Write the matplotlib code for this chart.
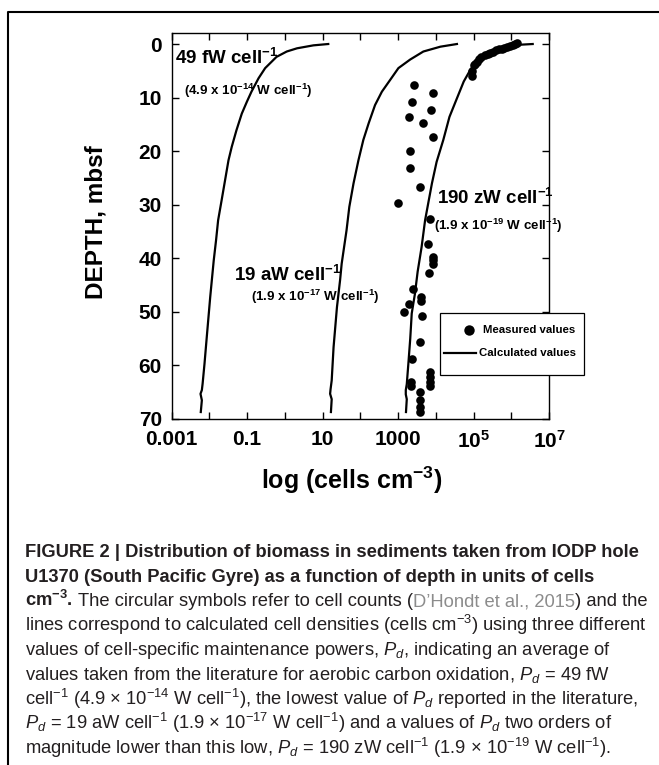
"""Depth profile of cell densities at IODP hole U1370 (South Pacific Gyre)."""

import matplotlib
matplotlib.use("Agg")
import matplotlib.pyplot as plt
from matplotlib import font_manager
from matplotlib.lines import Line2D
from matplotlib.patches import Rectangle
from matplotlib.ticker import NullLocator

installed = {f.name for f in font_manager.fontManager.ttflist}
CAPTION_FONT = "Liberation Sans Narrow" if "Liberation Sans Narrow" in installed else "Liberation Sans"

plt.rcParams["font.family"] = ["Liberation Sans", "DejaVu Sans"]
plt.rcParams["mathtext.fontset"] = "custom"
plt.rcParams["mathtext.rm"] = CAPTION_FONT
plt.rcParams["mathtext.it"] = CAPTION_FONT + ":italic"
plt.rcParams["mathtext.bf"] = "Liberation Sans:bold"

# calculated cell densities (cells cm-3) for three maintenance powers
depth_49fw = [0.0, 0.25, 0.8, 1.4, 2.4, 4.5, 6.4, 8.9, 10.8, 13.0, 16.1, 19.2, 21.7, 25.4,
              29.2, 32.9, 36.6, 40.4, 47.2, 54.7, 59.7, 63.4, 64.6, 65.3, 66.5, 68.7]
cells_49fw = [14.1, 5.7, 2.1, 1.12, 0.60, 0.30, 0.20, 0.13, 0.098, 0.072, 0.052, 0.039, 0.032,
              0.026, 0.021, 0.017, 0.015, 0.013, 0.0105, 0.0085, 0.0074, 0.0066, 0.0063,
              0.0058, 0.0063, 0.0059]

depth_19aw = [0.0, 0.5, 1.4, 2.9, 4.5, 6.7, 8.9, 11.4, 14.8, 17.9, 21.7, 26.0, 30.4, 34.8,
              41.0, 44.1, 49.1, 56.6, 62.8, 64.5, 65.3, 66.3, 68.7]
cells_19aw = [36300, 13200, 4680, 2090, 1020, 617, 372, 245, 166, 120, 89, 66, 51, 43,
              32, 29, 24, 19.5, 17.4, 16.2, 15.8, 17.4, 16.6]

depth_190zw = [0.0, 0.2, 1.1, 2.4, 4.9, 7.0, 10.2, 13.6, 17.9, 22.0, 26.0, 29.2, 32.9, 37.9,
               42.5, 46.6, 50.3, 55.0, 59.1, 63.5, 64.6, 65.4, 66.3, 68.7]
cells_190zw = [3.7e6, 1.15e6, 3.4e5, 1.5e5, 8.1e4, 5.5e4, 3.6e4, 2.3e4, 1.58e4, 1.05e4,
               7.9e3, 6.5e3, 5.2e3, 4.2e3, 3.3e3, 2.8e3, 2.3e3, 2.1e3, 1.9e3, 1.7e3,
               1.6e3, 1.6e3, 1.7e3, 1.62e3]

# measured cell counts (D'Hondt et al., 2015)
meas_depth = [-0.1, 0.0, 0.2, 0.35, 0.5, 0.7, 0.9, 1.0, 1.2, 1.4, 1.6, 1.8, 2.0, 2.5, 2.8,
              3.3, 3.7, 4.0, 5.0, 6.0,
              7.7, 9.1, 10.8, 12.3, 13.7, 14.7, 17.3, 20.0, 23.1, 26.7, 29.7, 32.6, 37.4,
              39.8, 40.4, 41.1, 42.7, 45.7, 47.2, 47.9, 48.5, 50.0, 50.8, 55.6, 58.8,
              61.3, 62.2, 63.1, 63.9, 63.1, 63.9, 65.0, 66.5, 67.8, 68.6]
meas_cells = [1.41e6, 1.26e6, 1.12e6, 9.5e5, 7.9e5, 6.6e5, 5.6e5, 4.8e5, 4.0e5, 3.3e5,
              2.8e5, 2.4e5, 2.0e5, 1.58e5, 1.41e5, 1.2e5, 1.12e5, 1.0e5, 8.9e4, 8.9e4,
              2570, 8300, 2340, 7590, 1900, 4680, 8300, 2090, 2090, 3890, 1020, 7080, 6170,
              8300, 8300, 8300, 6460, 2450, 3980, 3980, 2000, 1450, 4270, 3720, 2400,
              7080, 7080, 7080, 7080, 2240, 2240, 3890, 3890, 3890, 3890]

x_ticks = [1e-3, 1e-2, 1e-1, 1e0, 1e1, 1e2, 1e3, 1e4, 1e5, 1e6, 1e7]
x_tick_labels = ["0.001", "", "0.1", "", "10", "", "1000", "",
                 r"10$^{\mathbf{5}}$", "", r"10$^{\mathbf{7}}$"]
y_ticks = [0, 10, 20, 30, 40, 50, 60, 70]

# (label, x in cells cm-3, depth) for the curve annotations
curve_labels = [
    (r"49 fW cell$^{\mathbf{-1}}$", 1.2e-3, 2.6),
    (r"(4.9 x 10$^{\mathbf{-14}}$ W cell$^{\mathbf{-1}}$)", 2.1e-3, 8.8),
    (r"19 aW cell$^{\mathbf{-1}}$", 4.5e-2, 43.2),
    (r"(1.9 x 10$^{\mathbf{-17}}$ W cell$^{\mathbf{-1}}$)", 1.25e-1, 47.2),
    (r"190 zW cell$^{\mathbf{-1}}$", 1.1e4, 28.8),
    (r"(1.9 x 10$^{\mathbf{-19}}$ W cell$^{\mathbf{-1}}$)", 8.7e3, 34.0),
]

caption_lines = [
    [("FIGURE 2 | Distribution of biomass in sediments taken from IODP hole", "bold", None)],
    [("U1370 (South Pacific Gyre) as a function of depth in units of cells", "bold", None)],
    [(r"cm$^{\mathbf{-3}}$.", "bold", None),
     (" The circular symbols refer to cell counts (", "normal", None),
     ("D’Hondt et al., 2015", "normal", "#8c8c8c"),
     (") and the", "normal", None)],
    [("lines correspond to calculated cell densities (cells cm$^{-3}$) using three different", "normal", None)],
    [("values of cell-specific maintenance powers, $P_d$, indicating an average of", "normal", None)],
    [("values taken from the literature for aerobic carbon oxidation, $P_d$ = 49 fW", "normal", None)],
    [("cell$^{-1}$ (4.9 × 10$^{-14}$ W cell$^{-1}$), the lowest value of $P_d$ reported in the literature,", "normal", None)],
    [("$P_d$ = 19 aW cell$^{-1}$ (1.9 × 10$^{-17}$ W cell$^{-1}$) and a values of $P_d$ two orders of", "normal", None)],
    [("magnitude lower than this low, $P_d$ = 190 zW cell$^{-1}$ (1.9 × 10$^{-19}$ W cell$^{-1}$).", "normal", None)],
]

W, H = 659, 765
fig = plt.figure(figsize=(W / 100, H / 100), dpi=100)
fig.patch.set_facecolor("white")
ax = fig.add_axes([171.7 / W, 1 - 419 / H, 377.3 / W, 385.7 / H])

for depth, cells in [(depth_49fw, cells_49fw), (depth_19aw, cells_19aw), (depth_190zw, cells_190zw)]:
    ax.plot(cells, depth, color="black", linewidth=1.6, solid_joinstyle="round")
ax.plot(meas_cells, meas_depth, "o", color="black", markersize=6.2, markeredgewidth=0)

ax.set_xscale("log")
ax.set_xlim(1e-3, 1e7)
ax.set_ylim(70, -2)
ax.set_xticks(x_ticks)
ax.set_xticklabels(x_tick_labels)
ax.xaxis.set_minor_locator(NullLocator())
ax.set_yticks(y_ticks)
ax.set_yticklabels([str(v) for v in y_ticks])
ax.tick_params(direction="in", top=True, right=True, length=5, width=1.0,
               labelsize=15, pad=7)
ax.tick_params(axis="x", pad=8)
for lab in ax.get_xticklabels() + ax.get_yticklabels():
    lab.set_fontweight("bold")
for sp in ax.spines.values():
    sp.set_linewidth(1.0)

for text, x, y in curve_labels:
    big = text[0] != "("
    ax.text(x, y, text, fontsize=13.5 if big else 9.6, fontweight="bold",
            ha="left", va="center")

# legend box drawn in axes fraction
ax.add_patch(Rectangle((0.711, 0.114), 0.382, 0.160, transform=ax.transAxes,
                       facecolor="white", edgecolor="black", linewidth=0.9,
                       clip_on=False, zorder=5))
ax.add_line(Line2D([0.788], [0.231], transform=ax.transAxes, marker="o", color="black",
                   markersize=7.5, markeredgewidth=0, linestyle="none", clip_on=False, zorder=6))
ax.add_line(Line2D([0.721, 0.807], [0.170, 0.170], transform=ax.transAxes, color="black",
                   linewidth=1.6, clip_on=False, zorder=6))
ax.text(0.824, 0.231, "Measured values", transform=ax.transAxes, fontsize=8.2,
        fontweight="bold", va="center", ha="left", zorder=6)
ax.text(0.815, 0.170, "Calculated values", transform=ax.transAxes, fontsize=8.2,
        fontweight="bold", va="center", ha="left", zorder=6)

fig.text(96 / W, 1 - 222 / H, "DEPTH, mbsf", rotation=90, fontsize=17.5,
         fontweight="bold", ha="center", va="center")
fig.text(352 / W, 1 - 480 / H, r"log (cells cm$^{\mathbf{-3}}$)", fontsize=18,
         fontweight="bold", ha="center", va="center")

# frame corner
fig.add_artist(Line2D([8 / W, 8 / W, 1.0], [0.0, 1 - 12 / H, 1 - 12 / H],
                      transform=fig.transFigure, color="black", linewidth=1.5))

# caption
renderer = fig.canvas.get_renderer()


def text_width(s, size, weight):
    t = fig.text(0, 0, s, fontsize=size, fontweight=weight, family=CAPTION_FONT)
    w = t.get_window_extent(renderer).width
    t.remove()
    return w


# fit the bold title line and the longest plain line to the reference widths
size = {
    "bold": 13.0 * 614.0 / text_width(caption_lines[0][0][0], 13.0, "bold"),
    "normal": 13.0 * 612.0 / text_width(caption_lines[6][0][0], 13.0, "normal"),
}
space_w = {wt: text_width("x x", size[wt], wt) - text_width("xx", size[wt], wt)
           for wt in ("bold", "normal")}

y0, step = 557.0, 24.6
for i, runs in enumerate(caption_lines):
    x = 25.0
    y = 1 - (y0 + i * step) / H
    for s, wt, col in runs:
        lead = len(s) - len(s.lstrip(" "))
        x += lead * space_w[wt]
        t = fig.text(x / W, y, s.strip(" "), fontsize=size[wt], fontweight=wt,
                     family=CAPTION_FONT, color=col or "#231f20", va="baseline", ha="left")
        x += t.get_window_extent(renderer).width

fig.savefig("out.png", dpi=100, facecolor="white")
